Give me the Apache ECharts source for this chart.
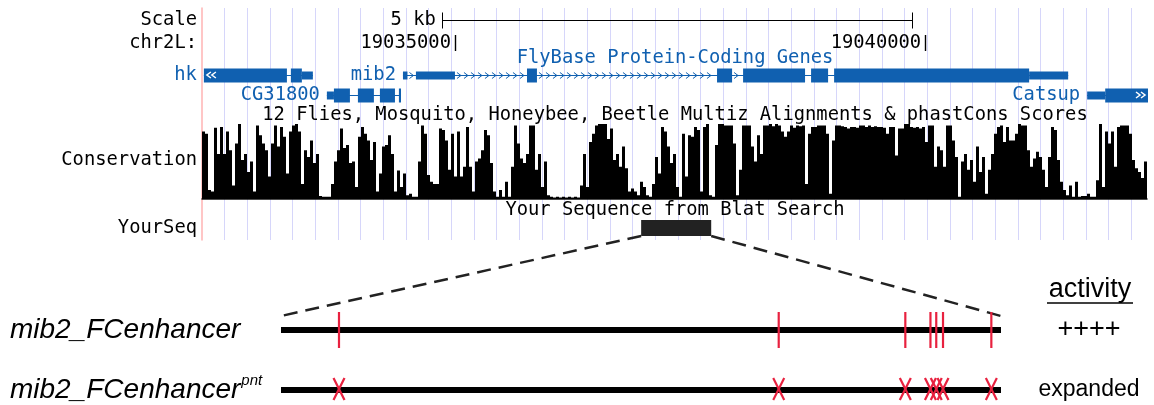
<!DOCTYPE html>
<html>
<head>
<meta charset="utf-8">
<script src="https://cdn.jsdelivr.net/npm/echarts@6/dist/echarts.min.js"></script>
<style>
  html, body { margin: 0; background: #fff; }
  #chart { width: 1154px; height: 405px; }
</style>
</head>
<body>
<div id="chart"></div>
<script>
// UCSC browser window, chr2L (bp)
const viewStart = 19032310;
const viewEnd = 19042370;
const guideBp = 241;                      // spacing of the light blue guidelines
const posLabels = [19035000, 19040000];
const scaleBar = [19034860, 19039860];    // 5 kb
const scaleLabel = '5 kb';

// FlyBase protein-coding genes: blocks are [start, end, kind]
const geneNames = ['hk', 'mib2', 'CG31800', 'Catsup'];
const geneStrand = ['-', '+', '-', '+'];
const geneTrack = [0, 0, 1, 1];
const geneEdge = ['left', null, null, 'right'];
const hkBlocks = [[19032330, 19033213, 'cds'], [19033255, 19033372, 'cds'], [19033372, 19033489, 'utr']];
const mib2Blocks = [[19034447, 19034495, 'utr'], [19034585, 19035000, 'utr'], [19035766, 19035872, 'cds'],
  [19037787, 19037947, 'cds'], [19038064, 19038723, 'cds'], [19038787, 19038968, 'cds'],
  [19039032, 19041106, 'cds'], [19041106, 19041521, 'utr']];
const cg31800Blocks = [[19033638, 19033713, 'utr'], [19033713, 19033883, 'cds'], [19033968, 19034138, 'cds'],
  [19034202, 19034362, 'cds'], [19034404, 19034426, 'cds']];
const catsupBlocks = [[19041723, 19041915, 'utr'], [19041915, 19042400, 'cds']];
const geneBlocks = [hkBlocks, mib2Blocks, cg31800Blocks, catsupBlocks];

// BLAT hit = the enhancer fragment
const blatHit = [19036980, 19037725];

// phastCons scores, one value per ~32 bp bin across the window
const consA = [0.9, 0.87, 0.12, 0.1, 0.95, 0.6, 0.96, 0.6, 0.9, 0.65,
  0.18, 0.74, 1.0, 0.52, 0.6, 0.36, 0.5, 0.1, 0.98, 0.85,
  0.74, 0.65, 0.3, 0.74, 0.98, 0.7, 0.96, 0.83, 0.34, 0.9,
  0.98, 1.0, 0.9, 0.2, 0.65, 0.56, 0.78, 0.48, 0.6, 0.04,
  0.03, 0.03, 0.03, 0.2, 0.5, 0.65, 0.94, 0.68, 0.72, 0.48,
  0.5, 0.16, 0.83, 0.96, 0.87, 0.78, 0.52, 0.76, 0.1, 0.34,
  0.7, 0.72, 0.85, 0.6, 0.1, 0.38, 0.16, 0.34, 0.05, 0.07,
  0.03, 0.03, 0.5, 0.98, 0.87, 0.32, 0.23, 0.2];
const consB = [0.2, 0.94, 0.92, 0.78, 0.39, 0.87, 0.3, 0.9, 0.3, 0.43,
  0.96, 0.43, 0.1, 0.5, 0.54, 0.65, 0.92, 0.85, 0.48, 0.1,
  0.03, 0.12, 0.03, 0.23, 0.03, 0.43, 0.98, 0.74, 0.54, 0.48,
  0.6, 0.98, 0.98, 0.39, 0.6, 0.16, 0.5, 0.05, 0.03, 0.02,
  0.03, 0.02, 0.03, 0.02, 0.03, 0.02, 0.03, 0.02, 0.18, 0.6,
  0.16, 0.76, 0.87, 0.98, 1.0, 1.0, 1.0, 0.8, 0.94, 0.52,
  0.6, 0.43, 0.7, 0.41, 0.1, 0.14, 0.1, 0.05, 0.23, 0.16,
  0.05, 0.03, 0.2, 0.56, 0.34, 0.96, 0.9, 0.7, 0.48];
const consC = [0.6, 0.16, 0.03, 0.87, 0.3, 0.85, 0.83, 0.96, 0.92, 0.1,
  0.96, 1.0, 0.05, 0.03, 0.72, 1.0, 1.0, 0.98, 0.98, 0.98,
  0.74, 0.05, 0.39, 0.98, 0.98, 0.98, 0.7, 0.5, 0.85, 0.6,
  0.98, 0.98, 1.0, 0.97, 1.0, 0.98, 0.9, 0.83, 0.9, 0.98,
  0.95, 0.98, 0.97, 0.98, 0.2, 0.87, 0.96, 0.96, 0.98, 0.98,
  0.98, 0.87, 0.07, 0.78, 0.98, 0.98, 0.97, 0.96, 0.94, 0.96,
  0.96, 0.95, 0.98, 0.98, 0.96, 0.98, 0.96, 0.97, 0.96, 0.96,
  0.95, 0.87, 0.96, 0.96, 0.58, 0.94, 0.94, 1.0, 1.0];
const consD = [0.96, 0.95, 0.96, 0.94, 0.96, 0.76, 0.98, 0.98, 0.43, 0.7,
  0.65, 0.43, 0.98, 0.98, 0.78, 0.56, 0.03, 0.5, 0.6, 0.39,
  0.52, 0.23, 0.7, 0.36, 0.56, 0.07, 0.39, 0.6, 0.87, 0.96,
  0.98, 0.76, 0.96, 0.78, 0.78, 0.87, 1.0, 0.98, 0.98, 0.65,
  0.43, 0.54, 0.63, 0.56, 0.39, 0.16, 0.56, 0.96, 0.92, 0.52,
  0.23, 0.12, 0.05, 0.18, 0.03, 0.23, 0.03, 0.04, 0.04, 0.07,
  0.03, 0.03, 0.25, 1.0, 0.16, 0.9, 0.74, 0.9, 0.43, 0.96,
  0.98, 0.98, 0.98, 0.87, 0.52, 0.41, 0.36, 0.28, 0.5];
const consScores = consA.concat(consB, consC, consD);

// enhancer constructs below the browser
const enhLength = blatHit[1] - blatHit[0];
const siteOffsets = [60, 515, 646, 672, 678, 685, 735];   // Pnt sites, bp from enhancer start
const constructs = ['mib2_FCenhancer', 'mib2_FCenhancer'];
const constructSup = ['', 'pnt'];
const activity = ['++++', 'expanded'];

// layout (browser rows in px)
const BLUE = '#1060b0', RED = '#e8213f', MONO = 'DejaVu Sans Mono', SANS = 'Liberation Sans';
const FS = 18.8;
const SCALE_Y = 20, POS_Y = 43, GENE_Y = [75, 95], BLAT_Y = 228;
const CDS_H = 14, UTR_H = 8;

// snap a 1px line onto the pixel grid
const crisp = (v) => Math.round(v) + 0.5;

function chevron(cx, cy, dir, color, lw) {
  return { type: 'polyline', shape: { points: [[cx - 2 * dir, cy - 3], [cx + 2 * dir, cy], [cx - 2 * dir, cy + 3]] },
    style: { stroke: color, lineWidth: lw, fill: null } };
}

function renderGene(params, api) {
  const g = params.dataIndex;
  const blocks = geneBlocks[g];
  const left = api.coord([viewStart, 0])[0], right = api.coord([viewEnd, 0])[0];
  const px = (bp) => Math.max(left, Math.min(right, api.coord([bp, 0])[0]));
  const yc = api.coord([viewStart, GENE_Y[geneTrack[g]]])[1];
  const xs = px(blocks[0][0]), xe = px(blocks[blocks.length - 1][1]);
  const dir = geneStrand[g] === '+' ? 1 : -1;
  const kids = [{ type: 'line', shape: { x1: xs, y1: crisp(yc), x2: xe, y2: crisp(yc) }, style: { stroke: BLUE, lineWidth: 1 } }];
  for (let i = 0; i < blocks.length - 1; i++) {
    const a = px(blocks[i][1]), b = px(blocks[i + 1][0]);
    for (let cx = a + 4; cx <= b - 4; cx += 7) kids.push(chevron(cx, crisp(yc), dir, BLUE, 1));
  }
  blocks.forEach(([s, e, kind]) => {
    const h = kind === 'cds' ? CDS_H : UTR_H;
    const x = px(s);
    kids.push({ type: 'rect', shape: { x: x, y: yc - h / 2 + 0.5, width: Math.max(1.5, px(e) - x), height: h }, style: { fill: BLUE } });
  });
  if (geneEdge[g] === 'left') [5, 10].forEach((d) => kids.push(chevron(xs + d, yc, -1, '#fff', 1.5)));
  if (geneEdge[g] === 'right') [-5, -10].forEach((d) => kids.push(chevron(xe + d, yc, 1, '#fff', 1.5)));
  kids.push({ type: 'text', style: { text: geneNames[g], x: xs - 7, y: yc, align: 'right', verticalAlign: 'middle',
    fill: BLUE, fontFamily: MONO, fontSize: FS } });
  return { type: 'group', children: kids };
}

const chart = echarts.init(document.getElementById('chart'), null, { renderer: 'canvas' });

chart.setOption({
  animation: false,
  backgroundColor: '#fff',
  grid: [
    { left: 202, width: 946, top: 8, height: 232, outerBoundsMode: 'none' },
    { left: 202, width: 945, top: 124, height: 75, outerBoundsMode: 'none' },
    { left: 281, width: 720, top: 300, height: 120, outerBoundsMode: 'none' }
  ],
  xAxis: [
    { gridIndex: 0, type: 'value', min: viewStart, max: viewEnd, show: false },
    { gridIndex: 0, type: 'value', min: 0, max: (viewEnd - viewStart) / guideBp, interval: 1,
      axisLine: { show: false }, axisTick: { show: false }, axisLabel: { show: false },
      splitLine: { show: true, showMinLine: false, showMaxLine: false, lineStyle: { color: '#d6d6fa', width: 1 } } },
    { gridIndex: 1, type: 'category', data: consScores.map((_, i) => i),
      axisLine: { show: true, lineStyle: { color: '#111', width: 1.5 } },
      axisTick: { show: false }, axisLabel: { show: false }, splitLine: { show: false } },
    { gridIndex: 2, type: 'value', min: 0, max: enhLength, show: false }
  ],
  yAxis: [
    { gridIndex: 0, type: 'value', min: 8, max: 240, inverse: true,
      axisLine: { show: true, lineStyle: { color: '#ffb3b3', width: 1.5 } },
      axisTick: { show: false }, axisLabel: { show: false }, splitLine: { show: false } },
    { gridIndex: 1, type: 'value', min: 0, max: 1, show: false },
    { gridIndex: 2, type: 'category', data: ['wt', 'pnt'], inverse: true,
      axisLine: { show: false }, axisTick: { show: false }, splitLine: { show: false },
      axisLabel: {
        margin: 271, align: 'left',
        formatter: (v, i) => '{n|' + constructs[i] + '}' + (constructSup[i] ? '{s|' + constructSup[i] + '}' : ''),
        rich: {
          n: { fontFamily: SANS, fontStyle: 'italic', fontSize: 28, color: '#000' },
          s: { fontFamily: SANS, fontStyle: 'italic', fontSize: 15, color: '#000', verticalAlign: 'top', padding: [0, 0, 18, 1] }
        }
      } },
    { gridIndex: 2, type: 'category', data: ['wt', 'pnt'], inverse: true, position: 'right',
      axisLine: { show: false }, axisTick: { show: false }, splitLine: { show: false },
      axisLabel: {
        margin: 88, align: 'center',
        formatter: (v, i) => '{a' + i + '|' + activity[i] + '}',
        rich: {
          a0: { fontFamily: SANS, fontSize: 27, color: '#000' },
          a1: { fontFamily: SANS, fontSize: 23, color: '#000' }
        }
      } }
  ],
  series: [
    { type: 'custom', name: 'genes', xAxisIndex: 0, yAxisIndex: 0, data: geneNames.map((_, i) => [i]), renderItem: renderGene },
    { type: 'custom', name: 'scale', xAxisIndex: 0, yAxisIndex: 0, data: [scaleBar],
      renderItem: (params, api) => {
        const a = api.coord([api.value(0), SCALE_Y]), b = api.coord([api.value(1), SCALE_Y]);
        const st = { stroke: '#000', lineWidth: 1 };
        const y = crisp(a[1]), xa = crisp(a[0]), xb = crisp(b[0]);
        return { type: 'group', children: [
          { type: 'line', shape: { x1: xa, y1: y, x2: xb, y2: y }, style: st },
          { type: 'line', shape: { x1: xa, y1: y - 8, x2: xa, y2: y + 8 }, style: st },
          { type: 'line', shape: { x1: xb, y1: y - 8, x2: xb, y2: y + 8 }, style: st },
          { type: 'text', style: { text: scaleLabel, x: a[0] - 6, y: a[1], align: 'right', verticalAlign: 'middle',
            fill: '#000', fontFamily: MONO, fontSize: FS } }
        ] };
      } },
    { type: 'custom', name: 'positions', xAxisIndex: 0, yAxisIndex: 0, data: posLabels.map((p) => [p, POS_Y]),
      renderItem: (params, api) => {
        const p = api.coord([api.value(0), api.value(1)]);
        const x = crisp(p[0]);
        return { type: 'group', children: [
          { type: 'line', shape: { x1: x, y1: p[1] - 8, x2: x, y2: p[1] + 8 }, style: { stroke: '#000', lineWidth: 1.4 } },
          { type: 'text', style: { text: String(posLabels[params.dataIndex]), x: p[0] - 4, y: p[1], align: 'right',
            verticalAlign: 'middle', fill: '#000', fontFamily: MONO, fontSize: FS } }
        ] };
      } },
    { type: 'custom', name: 'YourSeq', xAxisIndex: 0, yAxisIndex: 0, data: [blatHit],
      renderItem: (params, api) => {
        const a = api.coord([api.value(0), BLAT_Y]), b = api.coord([api.value(1), BLAT_Y]);
        return { type: 'rect', shape: { x: a[0], y: a[1] - 8, width: b[0] - a[0], height: 16 }, style: { fill: '#222' } };
      } },
    { type: 'bar', name: 'Conservation', xAxisIndex: 2, yAxisIndex: 1, data: consScores,
      barCategoryGap: 0, barGap: 0, itemStyle: { color: '#000' }, silent: true },
    { type: 'custom', name: 'enhancer', xAxisIndex: 3, yAxisIndex: 2, data: constructs.map((_, i) => [0, i]),
      renderItem: (params, api) => {
        const row = params.dataIndex;
        const a = api.coord([0, row]), b = api.coord([enhLength, row]);
        const y = a[1];
        const kids = [{ type: 'line', shape: { x1: a[0], y1: y, x2: b[0], y2: y }, style: { stroke: '#000', lineWidth: 6 } }];
        siteOffsets.forEach((s) => {
          const x = api.coord([s, row])[0];
          const st = { stroke: RED, lineWidth: 2.2 };
          if (row === 0) {
            kids.push({ type: 'line', shape: { x1: x, y1: y - 18, x2: x, y2: y + 18 }, style: st });
          } else {
            kids.push({ type: 'line', shape: { x1: x - 5.5, y1: y - 12, x2: x + 5.5, y2: y + 10 }, style: st });
            kids.push({ type: 'line', shape: { x1: x + 5.5, y1: y - 12, x2: x - 5.5, y2: y + 10 }, style: st });
          }
        });
        return { type: 'group', children: kids };
      } }
  ]
});

// labels and the zoom-in lines from the BLAT hit down to the enhancer
const browser = { xAxisIndex: 0, yAxisIndex: 0 };
const diagram = { xAxisIndex: 3, yAxisIndex: 2 };
const cx = (chart.convertToPixel(browser, [viewStart, 0])[0] + chart.convertToPixel(browser, [viewEnd, 0])[0]) / 2;
const tl = chart.convertToPixel(browser, [blatHit[0], BLAT_Y + 8]);
const tr = chart.convertToPixel(browser, [blatHit[1], BLAT_Y + 8]);
const bl = chart.convertToPixel(diagram, [0, 0]);
const br = chart.convertToPixel(diagram, [enhLength, 0]);

const mono = (text, x, y, align, fill) => ({ type: 'text', x: x, y: y,
  style: { text: text, align: align, verticalAlign: 'middle', fill: fill || '#000', fontFamily: MONO, fontSize: FS } });
const dash = (p, q) => ({ type: 'line', shape: { x1: p[0], y1: p[1], x2: q[0], y2: q[1] - 14 },
  style: { stroke: '#222', lineWidth: 2.5, lineDash: [14, 8] } });

chart.setOption({
  graphic: [
    mono('Scale', 197, SCALE_Y, 'right'),
    mono('chr2L:', 197, POS_Y, 'right'),
    mono('Conservation', 197, 160, 'right'),
    mono('YourSeq', 197, BLAT_Y, 'right'),
    mono('FlyBase Protein-Coding Genes', cx, 58, 'center', BLUE),
    mono('12 Flies, Mosquito, Honeybee, Beetle Multiz Alignments & phastCons Scores', cx, 115, 'center'),
    mono('Your Sequence from Blat Search', cx, 210, 'center'),
    dash(tl, bl),
    dash(tr, br),
    { type: 'text', x: 1090, y: 290, style: { text: 'activity', align: 'center', verticalAlign: 'middle',
      fill: '#000', fontFamily: SANS, fontSize: 27 } },
    { type: 'line', shape: { x1: 1047, y1: 303, x2: 1133, y2: 303 }, style: { stroke: '#000', lineWidth: 1.5 } }
  ]
});
</script>
</body>
</html>
